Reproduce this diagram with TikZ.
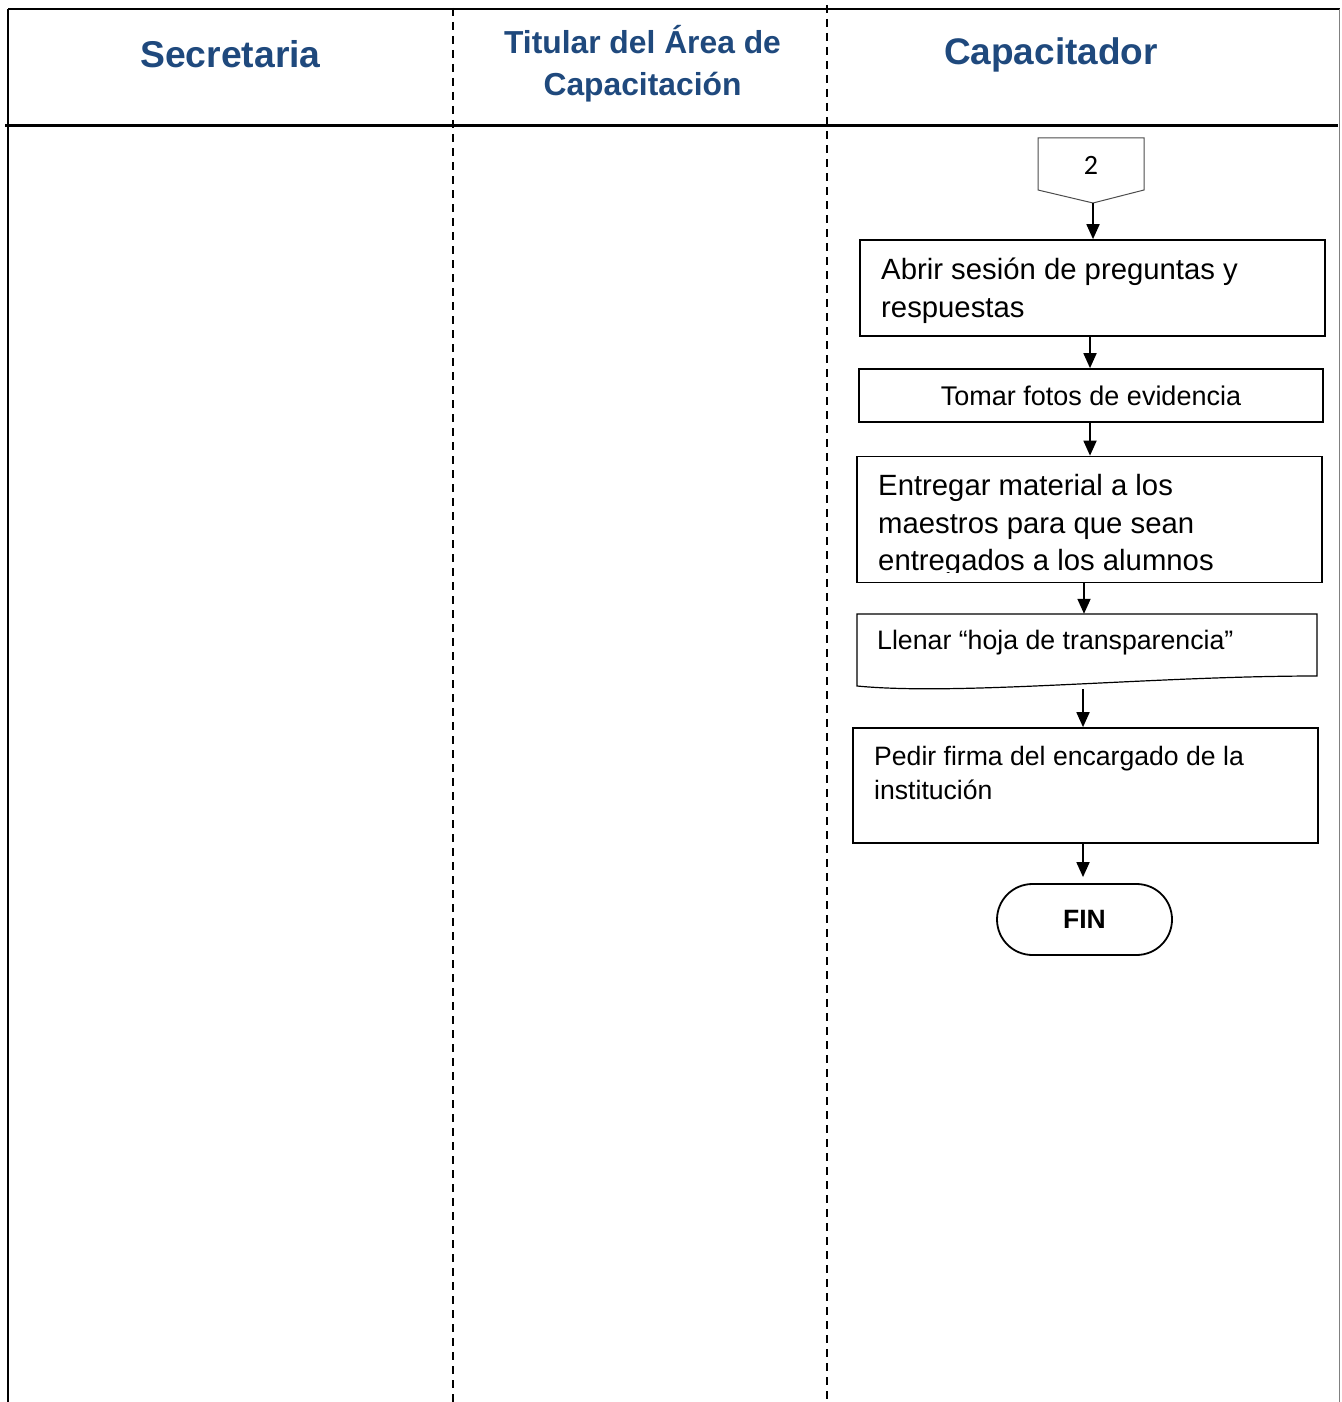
\documentclass[tikz,border=0pt]{standalone}
\usepackage{fontspec}
\setmainfont{Liberation Sans}
\newfontfamily\calfont{Carlito}
\usetikzlibrary{arrows.meta,shapes.misc}
\definecolor{hdr}{RGB}{31,73,125}
\begin{document}
\begin{tikzpicture}[x=1pt,y=-1pt,
  hdrtext/.style={text=hdr,inner sep=0,anchor=base},
  boxnode/.style={draw,line width=1.7pt,inner sep=0},
  txt/.style={inner sep=0,anchor=base west},
  arr/.style={line width=1.8pt,-{Triangle[length=15pt,width=13pt]}},
  lane/.style={line width=1.6pt,dash pattern=on 8pt off 6pt}]
\useasboundingbox (0,0) rectangle (1341,1402);
% frame and lanes
\draw[line width=2pt] (8,9) -- (1340,9);
\draw[line width=2pt] (8,9) -- (8,1402);
\draw[gray, line width=1.5pt] (1339.5,9) -- (1339.5,1402);
\draw[line width=3pt] (5,126) -- (1338,126);
\draw[lane] (453,8) -- (453,1402);
\draw[lane] (827,5) -- (827,1402);
% headers
\node[hdrtext, font=\fontsize{37.3}{44}\selectfont\bfseries] (h1) at (230.5,68) {Secretaria};
\node[hdrtext, font=\fontsize{31.8}{41}\selectfont\bfseries] (h2a) at (642.5,54) {Titular del Área de};
\node[hdrtext, font=\fontsize{31.8}{41}\selectfont\bfseries] (h2b) at (642.5,95.5) {Capacitación};
\node[hdrtext, font=\fontsize{37}{44}\selectfont\bfseries] (h3) at (1051,65) {Capacitador};
% off-page connector
\coordinate (c2tip) at (1093,203);
\draw[gray!60!black, line width=1pt] (1038,138) -- (1144,138) -- (1144,190) -- (c2tip) -- (1038,190) -- cycle;
\node[inner sep=0, font=\calfont\fontsize{28}{32}\selectfont] (c2) at (1091,165) {2};
% boxes
\node[boxnode, minimum width=465, minimum height=96] (b1) at (1092.5,288) {};
\node[txt, font=\fontsize{29.3}{36}\selectfont] (t1a) at (881,279) {Abrir sesión de preguntas y};
\node[txt, font=\fontsize{29.3}{36}\selectfont] (t1b) at (881,317) {respuestas};
\node[boxnode, minimum width=464, minimum height=53] (b2) at (1091,395.5) {};
\node[inner sep=0, anchor=base, font=\fontsize{27}{34}\selectfont] (t2) at (1091,405) {Tomar fotos de evidencia};
\node[boxnode, minimum width=465, minimum height=126] (b3) at (1089.5,519.5) {};
\begin{scope}
\clip (857,456) rectangle (1322,572.5);
\node[txt, font=\fontsize{29.3}{36}\selectfont] (t3a) at (878,495) {Entregar material a los};
\node[txt, font=\fontsize{29.3}{36}\selectfont] (t3b) at (878,533) {maestros para que sean};
\node[txt, font=\fontsize{29.3}{36}\selectfont] (t3c) at (878,570) {entregados a los alumnos};
\end{scope}
% document shape
\node[draw=none, minimum width=460, minimum height=75, inner sep=0] (doc) at (1087,651.5) {};
\draw[line width=1.2pt] (857,686) -- (857,614) -- (1317,614) -- (1317,676)
  .. controls (1150,676) and (960,696) .. (857,686) -- cycle;
\node[txt, font=\fontsize{26.7}{33}\selectfont] (t4) at (877,649) {Llenar “hoja de transparencia”};
\node[boxnode, minimum width=465, minimum height=115] (b5) at (1085.5,785.5) {};
\node[txt, font=\fontsize{26.6}{33}\selectfont] (t5a) at (874,765) {Pedir firma del encargado de la};
\node[txt, font=\fontsize{26.6}{33}\selectfont] (t5b) at (874,799) {institución};
\node[draw, rounded rectangle, line width=1.8pt, minimum width=175, minimum height=71, inner sep=0,
  font=\fontsize{26.5}{32}\selectfont\bfseries] (fin) at (1084.5,919.5) {FIN};
% connectors
\draw[arr] (c2tip) -- (b1.north -| c2tip);
\draw[arr] (b1.south -| 1090,0) -- (b2.north -| 1090,0);
\draw[arr] (b2.south -| 1090,0) -- (b3.north -| 1090,0);
\draw[arr] (b3.south -| 1084,0) -- (doc.north -| 1084,0);
\draw[arr] (doc.south -| 1083,0) -- (b5.north -| 1083,0);
\draw[arr, shorten >=6pt] (b5.south -| 1083,0) -- (fin.north -| 1083,0);
\end{tikzpicture}
\end{document}
